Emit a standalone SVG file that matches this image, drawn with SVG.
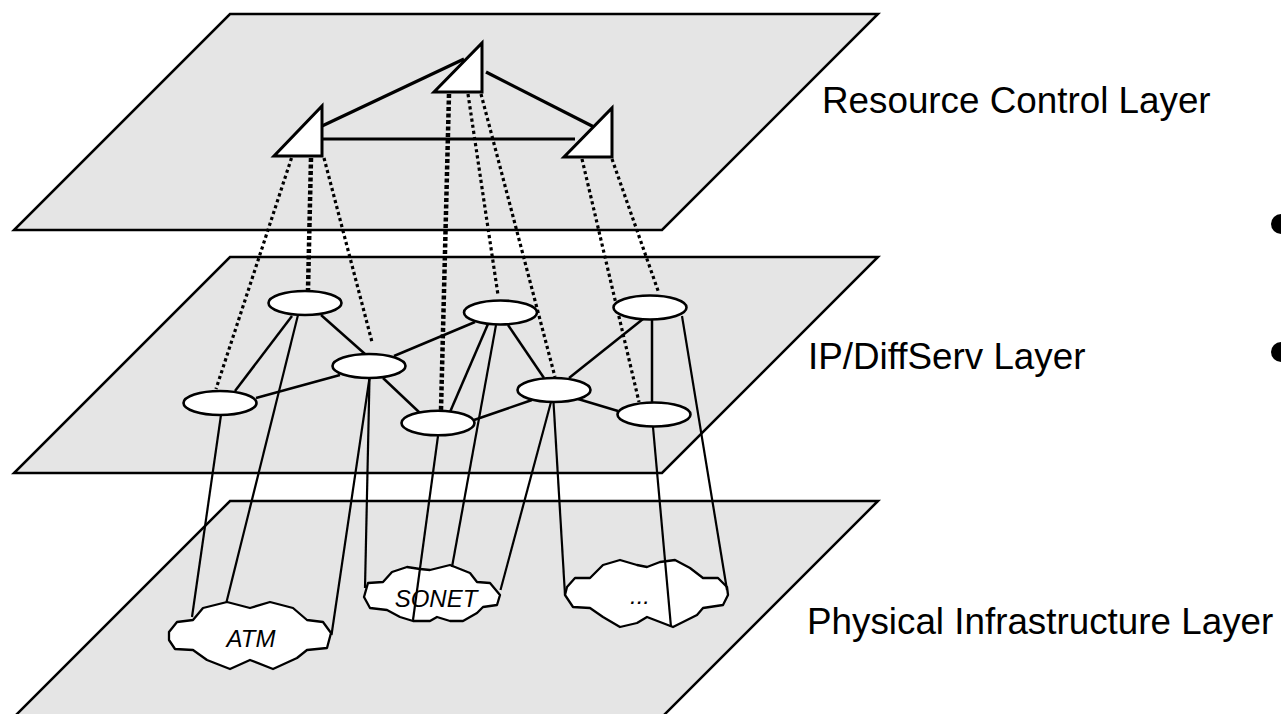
<svg xmlns="http://www.w3.org/2000/svg" width="1281" height="714" viewBox="0 0 1281 714">
<style>
.plane{fill:#e5e5e5;stroke:#000;stroke-width:2.5;stroke-linejoin:miter}
.tri{fill:#fff;stroke:#000;stroke-width:3;stroke-linejoin:miter}
.ell{fill:#fff;stroke:#000;stroke-width:2.6}
.cloud{fill:#fff;stroke:#000;stroke-width:2.3;stroke-linejoin:round}
.ctl{stroke:#000;stroke-width:3.2;fill:none}
.net{stroke:#000;stroke-width:2.5;fill:none}
.phy{stroke:#000;stroke-width:2.2;fill:none}
.dot{stroke:#000;stroke-width:3.2;stroke-dasharray:3.2 3;fill:none}
.dotb{stroke:#000;stroke-width:4.5;stroke-dasharray:4 2.5;fill:none}
.lbl{font-family:"Liberation Sans",Arial,sans-serif;font-size:36.8px;fill:#000}
.clbl{font-family:"Liberation Sans",Arial,sans-serif;font-size:24px;font-style:italic;fill:#000;text-anchor:middle}
</style>
<g id="planes">
<polygon id="plane-control" class="plane" points="230,14 878,14 662,230 14,230"/>
<polygon id="plane-ip" class="plane" points="230,257 878,257 662,473 14,473"/>
<polygon id="plane-physical" class="plane" points="230,501 878,501 662,717 14,717"/>
</g>
<g id="clouds">
<g id="cloud-atm"><polygon class="cloud" points="169,632 177,622 193,620 203,608 227,602 250,608 270,602 293,608 307,620 323,622 331,633 327,648 307,650 297,658 273,669 250,660 230,669 207,660 193,650 175,649 169,640"/><text class="clbl" x="251" y="647">ATM</text></g>
<g id="cloud-sonet"><polygon class="cloud" points="364,597 368,583 383,582 392,572 407,567 420,569 430,570 450,565 470,573 477,582 490,583 500,595 497,605 483,607 477,613 463,621 450,621 437,617 430,621 413,621 400,617 387,610 370,608"/><text class="clbl" x="436" y="607">SONET</text></g>
<g id="cloud-other"><polygon class="cloud" points="565,595 567,587 575,578 590,578 603,565 620,560 637,565 647,567 660,562 675,560 690,568 703,578 718,578 727,587 728,595 723,605 703,608 697,615 673,627 660,622 647,617 637,623 620,627 603,617 590,608 573,607"/><text class="clbl" x="640" y="604">...</text></g>
</g>
<g id="connectors">
<line class="ctl" x1="322" y1="126" x2="464" y2="59"/>
<line class="ctl" x1="486" y1="72" x2="594" y2="127"/>
<line class="ctl" x1="322" y1="139" x2="575" y2="139"/>
<line class="dot" x1="291.5" y1="158" x2="216" y2="389"/>
<line class="dotb" x1="311" y1="158" x2="308" y2="290"/>
<line class="dot" x1="324" y1="158" x2="372" y2="342"/>
<line class="dotb" x1="449" y1="94" x2="441" y2="410"/>
<line class="dot" x1="468" y1="94" x2="498" y2="295"/>
<line class="dot" x1="481" y1="94" x2="555" y2="377"/>
<line class="dot" x1="582" y1="159" x2="639" y2="402"/>
<line class="dot" x1="612" y1="159" x2="658.5" y2="292"/>
<line class="net" x1="292" y1="316" x2="235" y2="391"/>
<line class="net" x1="321" y1="315" x2="365" y2="354"/>
<line class="net" x1="340" y1="375" x2="256" y2="398"/>
<line class="net" x1="394" y1="356" x2="475" y2="322"/>
<line class="net" x1="383" y1="378" x2="420" y2="413"/>
<line class="net" x1="450" y1="412" x2="488" y2="324"/>
<line class="net" x1="508" y1="325" x2="544" y2="378"/>
<line class="net" x1="474" y1="420" x2="532" y2="400"/>
<line class="net" x1="569" y1="378" x2="643" y2="319"/>
<line class="net" x1="578" y1="399" x2="618" y2="411"/>
<line class="net" x1="652" y1="319" x2="652" y2="402"/>
<line class="phy" x1="221" y1="415" x2="192" y2="617"/>
<line class="phy" x1="298" y1="315" x2="226.5" y2="602"/>
<line class="phy" x1="369.5" y1="378" x2="331.5" y2="635"/>
<line class="phy" x1="369.5" y1="378" x2="365" y2="588"/>
<line class="phy" x1="438" y1="436" x2="413" y2="620"/>
<line class="phy" x1="496" y1="325" x2="452" y2="567"/>
<line class="phy" x1="551" y1="402" x2="500.5" y2="590"/>
<line class="phy" x1="553.5" y1="402" x2="565" y2="595"/>
<line class="phy" x1="653" y1="427" x2="671" y2="627"/>
<line class="phy" x1="682" y1="316" x2="727" y2="590"/>
</g>
<g id="control-nodes">
<polygon id="rc-left" class="tri" points="274,156 322,156 322,106"/>
<polygon id="rc-top" class="tri" points="434,92 482,92 482,43"/>
<polygon id="rc-right" class="tri" points="564,157 612,157 612,108"/>
</g>
<g id="ip-nodes">
<ellipse id="r1" class="ell" cx="305" cy="303" rx="36.5" ry="12"/>
<ellipse id="r2" class="ell" cx="220" cy="403" rx="36.5" ry="12"/>
<ellipse id="r3" class="ell" cx="369" cy="366" rx="36.5" ry="12"/>
<ellipse id="r4" class="ell" cx="438" cy="423" rx="36.5" ry="12.3"/>
<ellipse id="r5" class="ell" cx="500.5" cy="312.5" rx="36.5" ry="12"/>
<ellipse id="r6" class="ell" cx="554" cy="390" rx="36.5" ry="12"/>
<ellipse id="r7" class="ell" cx="650" cy="307.5" rx="36.5" ry="12"/>
<ellipse id="r8" class="ell" cx="654" cy="414.5" rx="36.5" ry="12"/>
</g>
<g id="labels">
<text class="lbl" x="822" y="113">Resource Control Layer</text>
<text class="lbl" x="808" y="369">IP/DiffServ Layer</text>
<text class="lbl" x="807" y="634">Physical Infrastructure Layer</text>
</g>
<g id="bullets">
<circle cx="1281" cy="224" r="10" fill="#000"/>
<circle cx="1281" cy="352" r="10" fill="#000"/>
</g>
</svg>
